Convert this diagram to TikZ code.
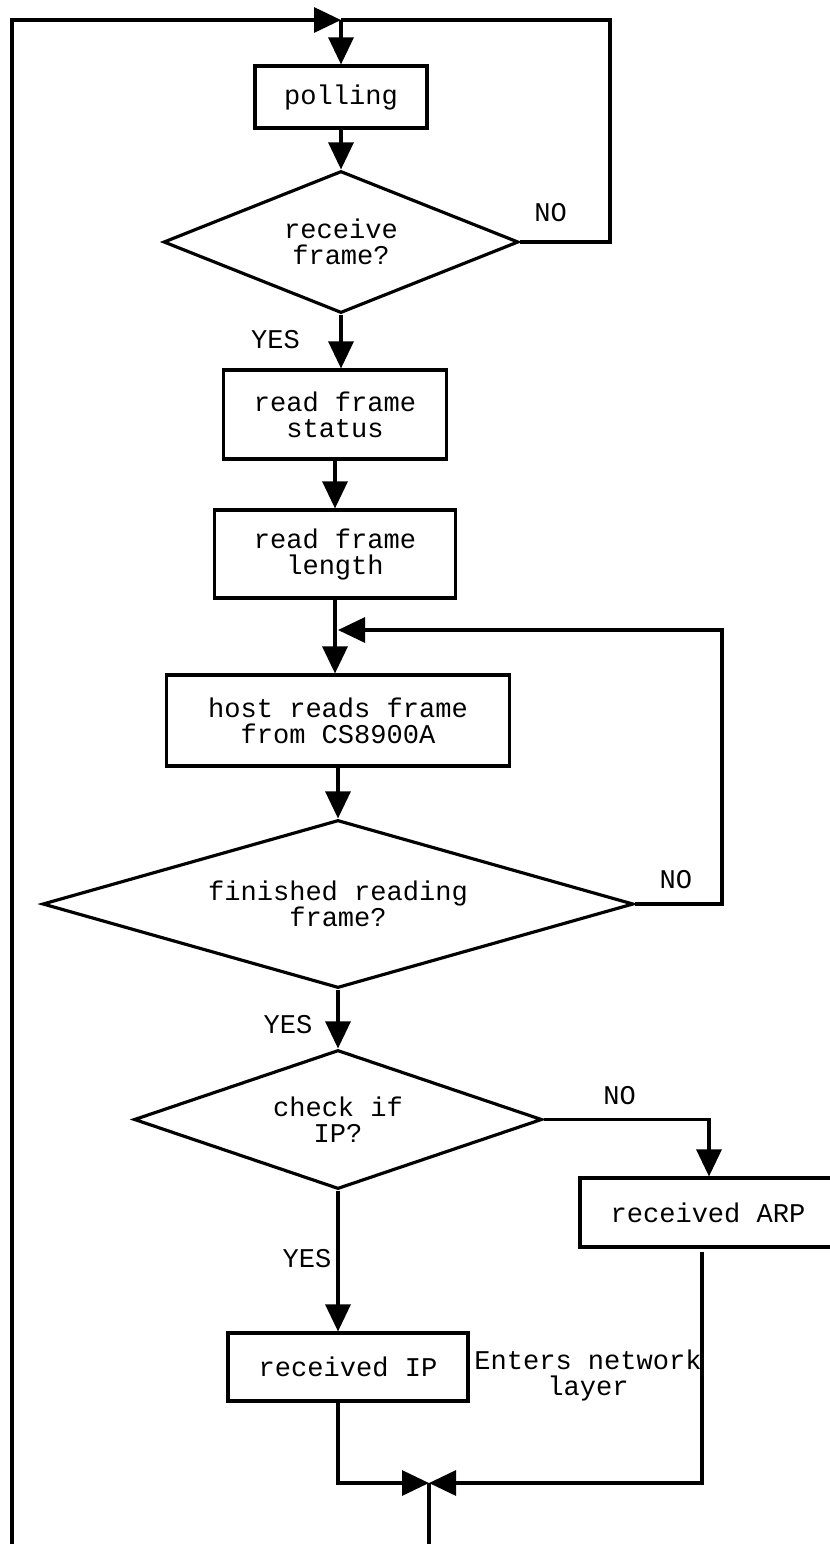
\documentclass[tikz,border=0pt]{standalone}
\usepackage{fontspec}
\setmainfont{Liberation Mono}
\usepackage{tikz}
\usetikzlibrary{shapes,arrows.meta}
\tikzstyle{decision} = [diamond, draw, line width=1.8pt, align=center, inner sep=0pt]
\tikzstyle{block} = [rectangle, draw, line width=1.8pt, align=center]
\tikzstyle{line} = [draw, line width=1.8pt, -{Triangle[length=0.54cm, width=0.5cm]}]
\tikzstyle{wire} = [draw, line width=1.8pt]
\tikzstyle{lbl} = [inner sep=0pt]

\begin{document}
\begin{tikzpicture}[font=\fontsize{15.4pt}{14.8pt}\selectfont]
	\useasboundingbox (0,0) rectangle (16.6,-30.88);
	\node [block, minimum width=3.44cm, minimum height=1.24cm] (poll) at (6.82,-1.94) {polling};
	\node [decision, below of=poll, node distance=2.9cm, aspect=2.5, minimum width=7.1cm, minimum height=2.84cm] (recv) {receive\\frame?};
	\node [block, below of=recv, node distance=3.45cm, xshift=-0.12cm, minimum width=4.46cm, minimum height=1.78cm] (status) {read frame\\status};
	\node [block, below of=status, node distance=2.79cm, minimum width=4.82cm, minimum height=1.76cm] (length) {read frame\\length};
	\node [block, below of=length, node distance=3.33cm, xshift=0.06cm, minimum width=6.86cm, minimum height=1.82cm] (host) {host reads frame\\from CS8900A};
	\node [decision, below of=host, node distance=3.67cm, aspect=3.52, minimum width=11.82cm, minimum height=3.36cm] (fin) {finished reading\\frame?};
	\node [decision, below of=fin, node distance=4.31cm, aspect=2.94, minimum width=8.16cm, minimum height=2.78cm] (chk) {check if\\IP?};
	\node [block, below of=chk, node distance=4.95cm, xshift=0.2cm, minimum width=4.8cm, minimum height=1.36cm] (ip) {received IP};
	\node [block, right of=chk, node distance=7.4cm, yshift=-1.86cm, minimum width=5.12cm, minimum height=1.38cm] (arp) {received ARP};
	\node [lbl, right of=ip, node distance=4.8cm, yshift=-0.16cm, align=center] (note) {Enters network\\layer};
	% bends and ends of the loops
	\coordinate [above of=poll, node distance=1.54cm] (loopin);
	\coordinate [right of=recv, node distance=5.38cm] (recvright);
	\coordinate [below of=length, node distance=1.52cm] (finin);
	\coordinate [right of=fin, node distance=7.68cm] (finright);
	\coordinate [right of=chk, node distance=7.42cm] (chkright);
	\coordinate [below of=ip, node distance=2.32cm, xshift=1.62cm] (merge);
	\coordinate [below of=merge, node distance=1.3cm] (bot);
	\coordinate (leftbot) at (0.24,-31);
	\path [line] (leftbot) |- (loopin);
	\path [line] (loopin) -- (poll);
	\path [line] (poll) -- (recv);
	\path [wire] (recv.east) -- node [lbl, above=0.38cm, pos=0.34] {NO} (recvright) |- (loopin);
	\path [line] (recv.south) -- node [lbl, left=0.79cm, pos=0.47] {YES} (recv.south |- status.north);
	\path [line] (status) -- (length);
	\path [line] (length.south) -- (length.south |- host.north);
	\path [line] (host.south) -- (host.south |- fin.north);
	\path [line, shorten >=0.06cm] (fin.east) -- node [lbl, above=0.28cm, pos=0.47] {NO} (finright) |- (finin);
	\path [line] (fin.south) -- node [lbl, left=0.48cm, pos=0.6] {YES} (chk);
	\path [line] (chk.east) -- node [lbl, above=0.26cm, pos=0.46] {NO} (chkright) -- (chkright |- arp.north);
	\path [line] (chk.south) -- node [lbl, left=0.1cm, pos=0.48] {YES} (chk.south |- ip.north);
	\path [line] (chk.south |- ip.south) |- (merge);
	\path [line] ([xshift=-0.12cm, yshift=-0.06cm]arp.south) |- (merge);
	\path [wire] (merge) -- (bot);
\end{tikzpicture}
\end{document}
